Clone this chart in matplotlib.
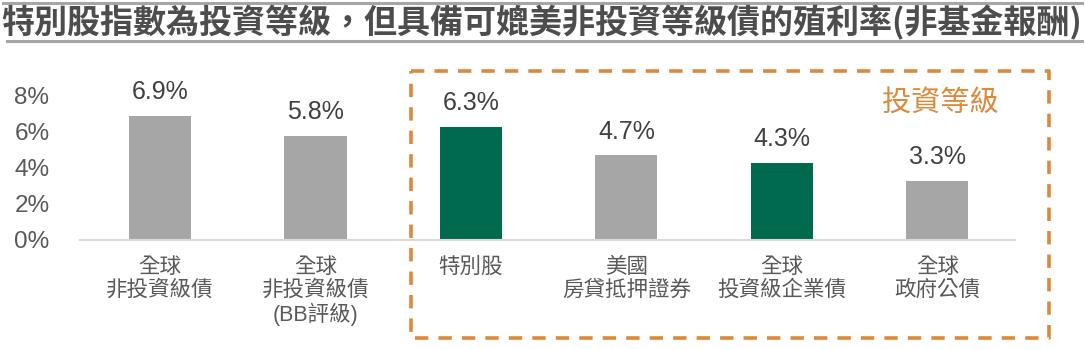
import matplotlib
matplotlib.use("Agg")
import matplotlib.pyplot as plt
from matplotlib.lines import Line2D

categories = ["全球\n非投資級債", "全球\n非投資級債\n(BB評級)", "特別股",
              "美國\n房貸抵押證券", "全球\n投資級企業債", "全球\n政府公債"]
values = [6.9, 5.8, 6.3, 4.7, 4.3, 3.3]
highlight = [False, False, True, False, True, False]
yticks = [0, 2, 4, 6, 8]
title = "特別股指數為投資等級，但具備可媲美非投資等級債的殖利率(非基金報酬)"
box_label = "投資等級"

GRAY = "#A6A6A6"
GREEN = "#006A4E"
ORANGE = "#DA8A3C"
TXT = "#595959"
CJK = ["Noto Sans CJK TC", "DejaVu Sans"]
LAT = ["Liberation Sans", "Noto Sans CJK TC"]

W, H = 1085, 349
fig = plt.figure(figsize=(W / 100, H / 100), dpi=100)

def fx(px):
    return px / W

def fy(py):
    return 1 - py / H

ax = fig.add_axes([fx(80), fy(240), fx(1015) - fx(80), fy(96) - fy(240)])
x = list(range(len(values)))
colors = [GREEN if h else GRAY for h in highlight]
ax.bar(x, values, width=0.4, color=colors, zorder=2)
ax.set_xlim(-0.515, 5.5)
ax.set_ylim(0, 8)
for s in ["top", "right", "left"]:
    ax.spines[s].set_visible(False)
ax.spines["bottom"].set_color("#D9D9D9")
ax.spines["bottom"].set_linewidth(1.5)
ax.set_yticks(yticks)
ax.set_yticklabels([f"{t}%" for t in yticks], fontsize=17.5, color=TXT, family=LAT)
ax.tick_params(axis="y", length=0, pad=22)
ax.set_xticks(x)
ax.set_xticklabels(categories, fontsize=15.5, color=TXT, family=LAT, linespacing=1.12, va="top")
ax.tick_params(axis="x", length=0, pad=12)

for xi, v in zip(x, values):
    ax.annotate(f"{v:.1f}%", (xi, v), xytext=(0, 17), textcoords="offset points",
                ha="center", va="center", fontsize=18, color="#404040", family=LAT)

# title and lines
fig.text(fx(542), fy(23), title, ha="center", va="center", fontsize=23.8,
         fontweight="bold", color="#4D4D4D", family=CJK)
fig.add_artist(Line2D([fx(3), fx(1082)], [fy(2.5), fy(2.5)], color="#A6A6A6", lw=2.2))
fig.add_artist(Line2D([fx(7), fx(1082)], [fy(41), fy(41)], color="#A6A6A6", lw=2.2))

# dashed box
bx0, bx1, by0, by1 = fx(411), fx(1049), fy(71), fy(338)
box = Line2D([bx0, bx1, bx1, bx0, bx0], [by0, by0, by1, by1, by0], color=ORANGE, lw=2.6,
             linestyle=(0, (3.7, 2.8)))
fig.add_artist(box)
fig.text(fx(940), fy(103), box_label, ha="center", va="center", fontsize=21,
         color=ORANGE, family=CJK)

fig.savefig("out.png", dpi=100)
